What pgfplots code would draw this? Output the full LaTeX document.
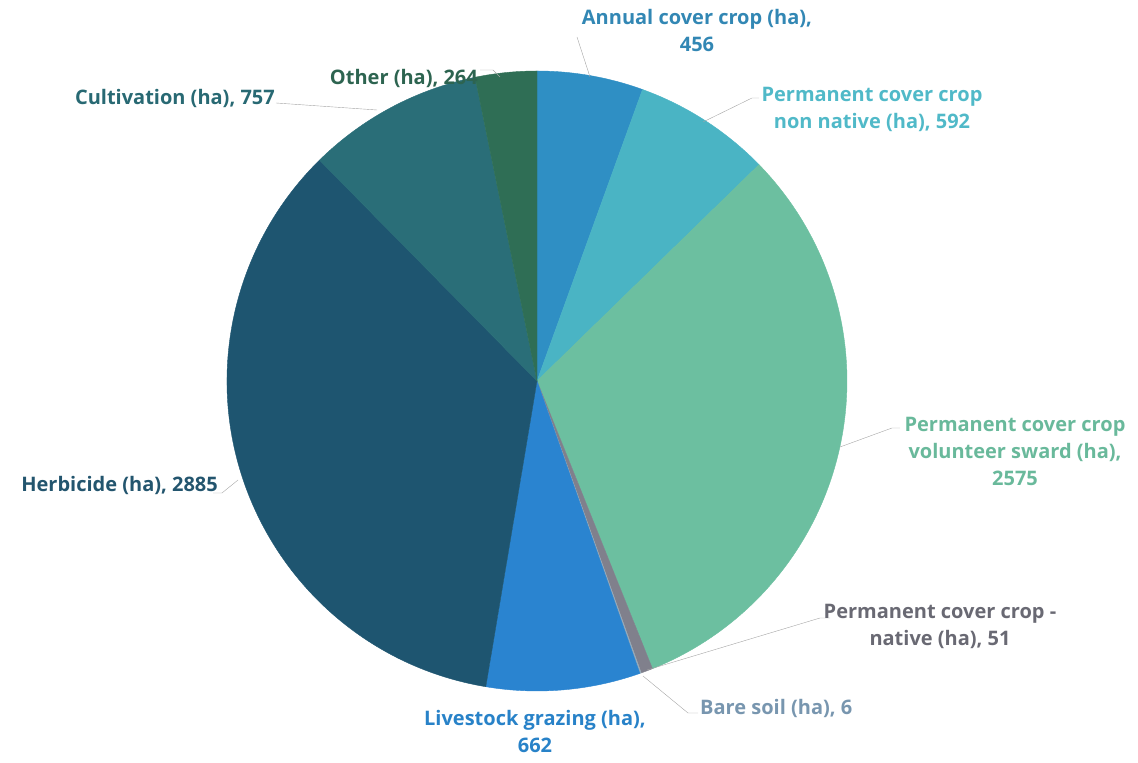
\documentclass[border=0pt]{standalone}
\usepackage{pgfplots}
\usepackage{pgfplotstable}
\pgfplotsset{compat=1.18}
\usepackage{fontspec}
\setmainfont{Open Sans}

% slice colours, clockwise from 12 o'clock
\definecolor{pie0}{RGB}{47,143,196}
\definecolor{pie1}{RGB}{74,180,196}
\definecolor{pie2}{RGB}{108,191,160}
\definecolor{pie3}{RGB}{128,128,140}
\definecolor{pie4}{RGB}{150,170,185}
\definecolor{pie5}{RGB}{42,132,208}
\definecolor{pie6}{RGB}{30,85,112}
\definecolor{pie7}{RGB}{42,110,120}
\definecolor{pie8}{RGB}{47,110,85}
% label colours
\definecolor{lab0}{RGB}{50,135,180}
\definecolor{lab1}{RGB}{80,185,200}
\definecolor{lab2}{RGB}{105,185,155}
\definecolor{lab3}{RGB}{105,105,115}
\definecolor{lab4}{RGB}{120,150,175}
\definecolor{lab5}{RGB}{40,130,200}
\definecolor{lab6}{RGB}{35,85,110}
\definecolor{lab7}{RGB}{40,105,115}
\definecolor{lab8}{RGB}{45,100,80}
\definecolor{leader}{RGB}{165,165,165}

\pgfplotstableread{
name value
annual 456
nonnative 592
sward 2575
native 51
bare 6
grazing 662
herbicide 2885
cultivation 757
other 264
}\piedata

\tikzset{lbl/.style={font=\fontsize{20}{27}\selectfont\bfseries, inner sep=0pt}}

\begin{document}
\begin{tikzpicture}
\begin{axis}[
    x=1pt, y=1pt,
    xmin=0, xmax=1138, ymin=0, ymax=763,
    hide axis, clip=false,
]
    \path (axis cs:0,0) rectangle (axis cs:1138,763);

    % total
    \gdef\total{0}
    \pgfplotsinvokeforeach{0,...,8}{
        \pgfplotstablegetelem{#1}{value}\of\piedata
        \pgfmathsetmacro\t{\total+\pgfplotsretval}
        \xdef\total{\t}
    }
    % slices
    \gdef\cum{0}
    \pgfplotsinvokeforeach{0,...,8}{
        \pgfplotstablegetelem{#1}{value}\of\piedata
        \pgfmathsetmacro\a{90-360*(\cum/\total)}
        \pgfmathsetmacro\newcum{\cum+\pgfplotsretval}
        \pgfmathsetmacro\b{90-360*(\newcum/\total)}
        \xdef\cum{\newcum}
        \edef\temp{\noexpand\filldraw[pie#1, line width=0.4pt] (axis cs:537,382) -- ++(\a:310pt)
            arc[start angle=\a, end angle=\b, radius=310pt] -- cycle;}
        \temp
    }

    % leader lines
    \draw[leader] (axis cs:590,686) -- (axis cs:577,726);
    \draw[leader] (axis cs:703,641) -- (axis cs:752,665) -- (axis cs:759,665);
    \draw[leader] (axis cs:840,316) -- (axis cs:892,335) -- (axis cs:900,335);
    \draw[leader] (axis cs:647,93) -- (axis cs:820,145) -- (axis cs:830,145);
    \draw[leader] (axis cs:643,87) -- (axis cs:688,50) -- (axis cs:698,50);
    \draw[leader] (axis cs:238,283) -- (axis cs:222,270) -- (axis cs:213,270);
    \draw[leader] (axis cs:276,660) -- (axis cs:377,653);
    \draw[leader] (axis cs:480,693) -- (axis cs:493,693) -- (axis cs:500,686);

    % labels
    \node[lbl, lab0, align=center] at (axis cs:697,732) {Annual cover crop (ha),\\456};
    \node[lbl, lab1, align=center] at (axis cs:872,654) {Permanent cover crop\\non native (ha), 592};
    \node[lbl, lab2, align=center] at (axis cs:1015,312) {Permanent cover crop\\volunteer sward (ha),\\2575};
    \node[lbl, lab3, align=center] at (axis cs:940,137) {Permanent cover crop -\\native (ha), 51};
    \node[lbl, lab4, anchor=west] at (axis cs:700,55) {Bare soil (ha), 6};
    \node[lbl, lab5, align=center] at (axis cs:535,31) {Livestock grazing (ha),\\662};
    \node[lbl, lab6, anchor=east] at (axis cs:218,278) {Herbicide (ha), 2885};
    \node[lbl, lab7, anchor=east] at (axis cs:275,665) {Cultivation (ha), 757};
    \node[lbl, lab8, anchor=east] at (axis cs:478,685) {Other (ha), 264};
\end{axis}
\end{tikzpicture}
\end{document}
